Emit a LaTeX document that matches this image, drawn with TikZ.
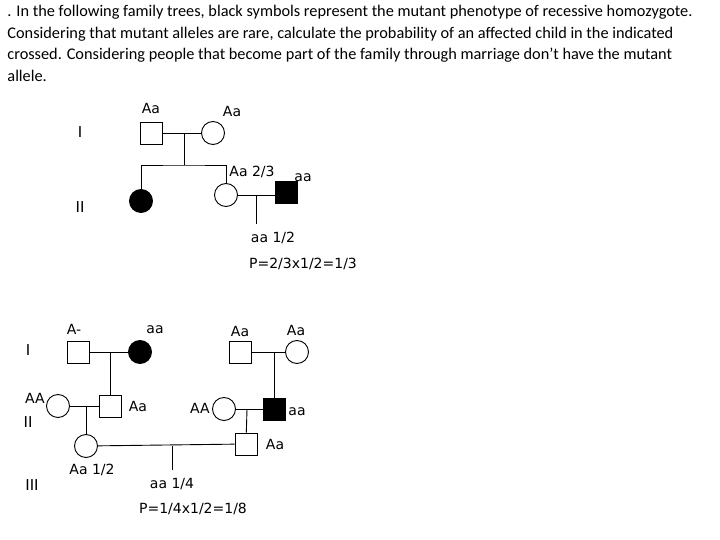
\documentclass[tikz,border=0pt]{standalone}
\usepackage{fontspec}
\setmainfont{Carlito}
\newfontfamily\genofont{DejaVu Sans}
\usetikzlibrary{positioning,calc}

\begin{document}
\begin{tikzpicture}[x=1pt,y=-1pt,line width=0.9pt,
 male/.style={draw,rectangle,minimum size=22pt,inner sep=0pt},
 female/.style={draw,circle,minimum size=23pt,inner sep=0pt},
 affected/.style={fill=black},
 geno/.style={font=\genofont\fontsize{14}{16}\selectfont,inner sep=1pt},
 gen/.style={font=\genofont\fontsize{15}{17}\selectfont,inner sep=1pt}]
\useasboundingbox (0,0) rectangle (720,540);
\node[anchor=north west,align=left,inner sep=0pt,font=\fontsize{16.3}{21.5}\selectfont] (prompt) at (7,5)
 {. In the following family trees, black symbols represent the mutant phenotype of recessive homozygote.\\
  Considering that mutant alleles are rare, calculate the probability of an affected child in the indicated\\
  crossed. Considering people that become part of the family through marriage don’t have the mutant\\
  allele.};

% first tree
\node[gen] (tgI) at (80,132) {I};
\node[gen] (tgII) at (80,207) {II};
\node[male] (tI1) at (151,133) {};
\node[female] (tI2) at (213,133) {};
\node[geno] (atI1) at (151,108) {Aa};
\node[geno] (atI2) at (232,111) {Aa};
\draw (tI1) -- (tI2);
\coordinate (tm1) at (184,133);
\coordinate (ts1) at (184,165);
\draw (tm1) -- (ts1);
\node[female,affected] (tII1) at (141,201) {};
\node[female] (tII2) at (226,195) {};
\node[male,affected] (tII3) at (286,192) {};
\node[geno] (atII2) at (252,172) {Aa 2/3};
\node[geno] (atII3) at (303,178) {aa};
\draw (tII1.north) |- (ts1) -| (tII2.north);
\draw (tII2) -- (tII2 -| tII3.west);
\coordinate (tm2) at (256,195);
\coordinate (tc) at (256,224);
\draw (tm2) -- (tc);
\node[geno] (atc) at (273,238) {aa 1/2};
\node[geno] (ptop) at (303,264) {P=2/3x1/2=1/3};

% second tree
\node[gen] (lgI) at (28,350) {I};
\node[gen] (lgII) at (28,422) {II};
\node[gen] (lgIII) at (32,485) {III};
\node[male] (lI1) at (78,352) {};
\node[female,affected] (lI2) at (140,352) {};
\node[geno] (alI1) at (74,329) {A-};
\node[geno] (alI2) at (155,330) {aa};
\draw (lI1) -- (lI2);
\coordinate (lm1) at (110,352);
\node[male] (lII2) at (110,406) {};
\node[female] (lII1) at (58,406) {};
\node[geno] (alII1) at (35,398) {AA};
\node[geno] (alII2) at (138,406) {Aa};
\draw (lm1) -- (lII2);
\draw (lII1) -- (lII2);
\coordinate (lm2) at (86,406);
\node[female] (lIII1) at (86,446) {};
\node[geno] (alIII1) at (92,470) {Aa 1/2};
\draw (lm2) -- (lIII1);

\node[male] (rI1) at (240,352) {};
\node[female] (rI2) at (297,352) {};
\node[geno] (arI1) at (240,331) {Aa};
\node[geno] (arI2) at (296,330) {Aa};
\draw (rI1) -- (rI2);
\coordinate (rm1) at (274,352);
\node[male,affected] (rII2) at (274,409) {};
\node[female] (rII1) at (224,409) {};
\node[geno] (arII1) at (200,408) {AA};
\node[geno] (arII2) at (297,412) {aa};
\draw (rm1) -- (rII2);
\draw (rII1) -- (rII2);
\coordinate (rm2) at (247,409);
\node[male] (rIII1) at (246,444) {};
\node[geno] (arIII1) at (275,444) {Aa};
\draw (rm2) -- (rIII1);

\draw (lIII1) -- (rIII1);
\coordinate (bm) at (172,446);
\coordinate (bc) at (172,470);
\draw (bm) -- (bc);
\node[geno] (abc) at (172,484) {aa 1/4};
\node[geno] (pbot) at (193,509) {P=1/4x1/2=1/8};
\end{tikzpicture}
\end{document}
